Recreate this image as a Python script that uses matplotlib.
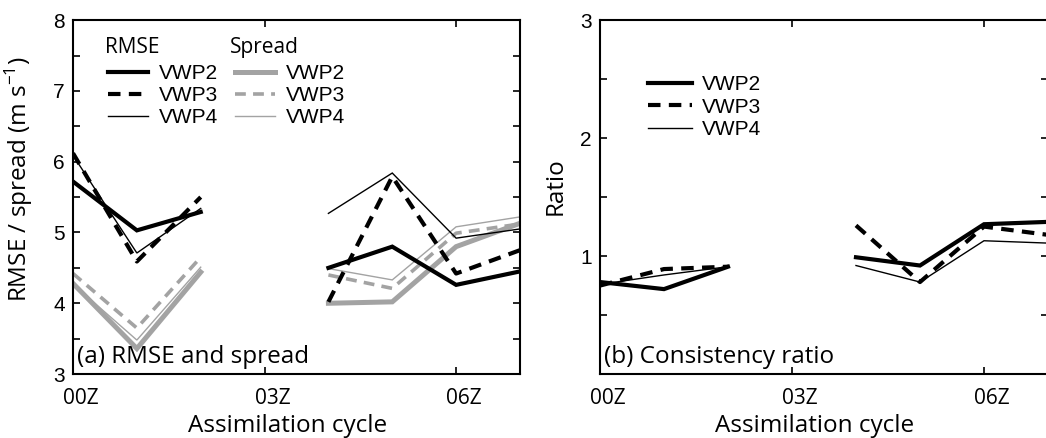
import numpy as np
import matplotlib
matplotlib.use('Agg')
import matplotlib.pyplot as plt
from matplotlib.lines import Line2D
from matplotlib.transforms import ScaledTranslation

# assimilation cycles (hours after 00Z); 03Z has no data
hours_a = [0, 1, 2]
hours_b = [4, 5, 6, 7]
xtick_pos = [0, 3, 6]
xtick_labels = ['00Z', '03Z', '06Z']
names = ['VWP2', 'VWP3', 'VWP4']

# (a) RMSE and spread, m s-1
rmse_a = {'VWP2': [5.72, 5.03, 5.29], 'VWP3': [6.12, 4.59, 5.50], 'VWP4': [6.09, 4.71, 5.34]}
rmse_b = {'VWP2': [4.50, 4.80, 4.26, 4.45], 'VWP3': [4.02, 5.79, 4.42, 4.75],
          'VWP4': [5.27, 5.84, 4.92, 5.05]}
spread_a = {'VWP2': [4.28, 3.36, 4.44], 'VWP3': [4.42, 3.65, 4.65], 'VWP4': [4.27, 3.48, 4.51]}
spread_b = {'VWP2': [4.00, 4.02, 4.80, 5.13], 'VWP3': [4.40, 4.21, 4.99, 5.12],
            'VWP4': [4.49, 4.33, 5.08, 5.22]}

# (b) consistency ratio
ratio_a = {'VWP2': [0.78, 0.72, 0.91], 'VWP3': [0.75, 0.89, 0.91], 'VWP4': [0.76, 0.84, 0.91]}
ratio_b = {'VWP2': [0.99, 0.92, 1.27, 1.29], 'VWP3': [1.26, 0.78, 1.25, 1.18],
           'VWP4': [0.92, 0.78, 1.13, 1.11]}

# line styles per experiment
sty = {'VWP2': dict(lw=3.0, ls='-'),
       'VWP3': dict(lw=3.0, ls=(0, (3, 2))),
       'VWP4': dict(lw=1.0, ls='-')}
sty_grey = {'VWP2': dict(lw=3.6, ls='-'),
            'VWP3': dict(lw=2.6, ls=(0, (3, 2))),
            'VWP4': dict(lw=1.0, ls='-')}
grey = '#a3a3a3'

tickfont = 'Liberation Sans'
labfont = 'Open Sans'

fig = plt.figure(figsize=(10.46, 4.38), dpi=100)
ax1 = fig.add_axes([0.0698, 0.146, 0.4273, 0.808])
ax2 = fig.add_axes([0.5736, 0.146, 0.4283, 0.808])


def style_axes(ax):
    for s in ax.spines.values():
        s.set_linewidth(1.5)
    ax.tick_params(direction='in', length=5, width=1.2, top=True, right=True, labelsize=15)
    ax.tick_params(axis='x', pad=10)
    ax.tick_params(axis='y', pad=6)
    ax.set_xlim(0, 7)
    ax.set_xticks(xtick_pos)
    ax.set_xticklabels(xtick_labels, fontfamily=labfont)
    # labels sit a little right of their ticks in the original
    for lab in ax.get_xticklabels():
        lab.set_transform(lab.get_transform() + ScaledTranslation(0.08, 0, fig.dpi_scale_trans))
    ax.set_xlabel('Assimilation cycle', fontsize=17.5, fontfamily=labfont)
    ax.xaxis.set_label_coords(0.48, -0.113)


leg_kw = dict(loc='center left', frameon=False, handletextpad=0.5, borderaxespad=0,
              borderpad=0, prop={'family': tickfont, 'size': 15})

# ---- panel (a)
for n in names:
    ax1.plot(hours_a, spread_a[n], color=grey, solid_joinstyle='miter', **sty_grey[n])
    ax1.plot(hours_b, spread_b[n], color=grey, solid_joinstyle='miter', **sty_grey[n])
for n in names:
    ax1.plot(hours_a, rmse_a[n], color='k', solid_joinstyle='miter', **sty[n])
    ax1.plot(hours_b, rmse_b[n], color='k', solid_joinstyle='miter', **sty[n])

style_axes(ax1)
ax1.set_ylim(3, 8)
ax1.set_yticks(np.arange(3, 8.01, 0.5))
ax1.set_yticklabels([str(int(v)) if v == int(v) else '' for v in np.arange(3, 8.01, 0.5)],
                    fontfamily=tickfont)
ax1.set_ylabel('RMSE / spread (m s$^{\\mathregular{-1}}$)', fontsize=17.5, fontfamily=labfont)
ax1.yaxis.set_label_coords(-0.085, 0.55)
ax1.text(0.01, 0.015, '(a) RMSE and spread', transform=ax1.transAxes, fontsize=17.5,
         fontfamily=labfont, va='bottom', ha='left')

ax1.text(0.072, 0.922, 'RMSE', transform=ax1.transAxes, fontsize=15, fontfamily=labfont,
         va='center', ha='left')
ax1.text(0.351, 0.922, 'Spread', transform=ax1.transAxes, fontsize=15, fontfamily=labfont,
         va='center', ha='left')
h_rmse = [Line2D([], [], color='k', **sty[n]) for n in names]
h_spr = [Line2D([], [], color=grey, **sty_grey[n]) for n in names]
leg1 = ax1.legend(h_rmse, names, bbox_to_anchor=(0.078, 0.787), handlelength=1.95,
                  labelspacing=0.14, **leg_kw)
ax1.add_artist(leg1)
ax1.legend(h_spr, names, bbox_to_anchor=(0.362, 0.787), handlelength=1.95,
           labelspacing=0.14, **leg_kw)

# ---- panel (b)
for n in names:
    ax2.plot(hours_a, ratio_a[n], color='k', solid_joinstyle='miter', **sty[n])
    ax2.plot(hours_b, ratio_b[n], color='k', solid_joinstyle='miter', **sty[n])

style_axes(ax2)
ax2.set_ylim(0, 3)
ax2.set_yticks(np.arange(0, 3.01, 0.5))
ax2.set_yticklabels([str(int(v)) if (v == int(v) and v > 0) else ''
                     for v in np.arange(0, 3.01, 0.5)], fontfamily=tickfont)
ax2.set_ylabel('Ratio', fontsize=17.5, fontfamily=labfont)
ax2.yaxis.set_label_coords(-0.072, 0.53)
ax2.text(0.01, 0.015, '(b) Consistency ratio', transform=ax2.transAxes, fontsize=17.5,
         fontfamily=labfont, va='bottom', ha='left')
ax2.legend([Line2D([], [], color='k', **sty[n]) for n in names], names,
           bbox_to_anchor=(0.107, 0.754), handlelength=2.1, labelspacing=0.17, **leg_kw)

fig.savefig('out.png', dpi=100)
